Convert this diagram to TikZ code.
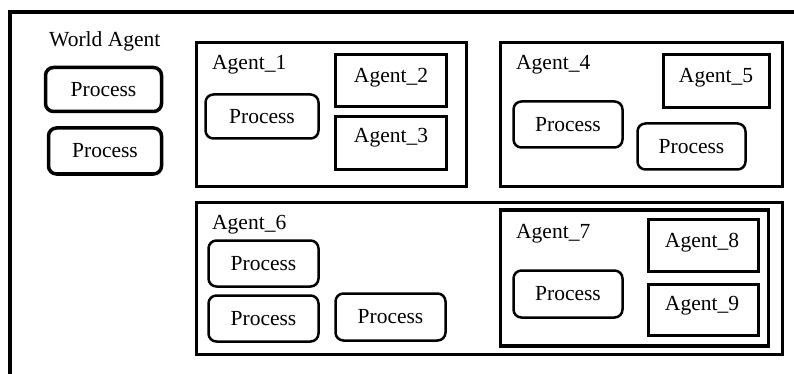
\documentclass[tikz,border=0pt]{standalone}
\usepackage{fontspec}
\setmainfont{Liberation Serif}
\begin{document}
\begin{tikzpicture}[x=1pt,y=-1pt,
  txt/.style={font=\fontsize{21.5}{25}\selectfont, inner sep=0pt},
  agentbox/.style={draw, line width=3pt, inner sep=0pt},
  procbox/.style={draw, line width=2.5pt, rounded corners=8pt, inner sep=0pt,
    font=\fontsize{21.5}{25}\selectfont},
  worldproc/.style={procbox, line width=3.5pt},
  box/.style args={#1x#2}{minimum width=#1pt, minimum height=#2pt}]
\useasboundingbox (0,0) rectangle (794,374);

% outer frame (open at right and bottom)
\coordinate (frameTR) at (794,12);
\coordinate (frameTL) at (10,12);
\coordinate (frameBL) at (10,374);
\draw[line width=4pt] (frameTR) -- (frameTL) -- (frameBL);

% world agent
\node[txt, anchor=base west] (wlabel) at (49,47) {World Agent};
\node[worldproc, box=116x44] (wp1) at (103.5,89.5) {Process};
\node[worldproc, box=113x46] (wp2) at (105,151) {Process};

% Agent_1
\node[agentbox, box=270x143] (a1) at (331,114.5) {};
\node[txt, anchor=base west] (a1t) at (212,70) {Agent\_1};
\node[procbox, box=113x44] (a1p) at (262,116.5) {Process};
\node[agentbox, box=111x52] (a2) at (390.5,81) {};
\node[txt, anchor=base] (a2t) at (391,83) {Agent\_2};
\node[agentbox, box=111x53] (a3) at (390.5,143) {};
\node[txt, anchor=base] (a3t) at (391,143) {Agent\_3};

% Agent_4
\node[agentbox, box=282x143] (a4) at (641,114.5) {};
\node[txt, anchor=base west] (a4t) at (516,70) {Agent\_4};
\node[agentbox, box=106x53] (a5) at (716,81.5) {};
\node[txt, anchor=base] (a5t) at (716,83) {Agent\_5};
\node[procbox, box=109x46] (a4p1) at (568,124.5) {Process};
\node[procbox, box=108x46] (a4p2) at (691.5,146.5) {Process};

% Agent_6
\node[agentbox, box=586x152] (a6) at (489,278) {};
\node[txt, anchor=base west] (a6t) at (212,229) {Agent\_6};
\node[procbox, box=110x46] (a6p1) at (263.5,263.5) {Process};
\node[procbox, box=110x46] (a6p2) at (263.5,318.5) {Process};
\node[procbox, box=110x47] (a6p3) at (390.5,317) {Process};

% Agent_7 inside Agent_6
\node[agentbox, line width=3.5pt, box=268x136] (a7) at (634.5,278) {};
\node[txt, anchor=base west] (a7t) at (516,238) {Agent\_7};
\node[procbox, box=109x47] (a7p) at (568,294) {Process};
\node[agentbox, box=110x52] (a8) at (703,245) {};
\node[txt, anchor=base] (a8t) at (702,247) {Agent\_8};
\node[agentbox, box=110x51] (a9) at (703,309.5) {};
\node[txt, anchor=base] (a9t) at (702,310) {Agent\_9};
\end{tikzpicture}
\end{document}
